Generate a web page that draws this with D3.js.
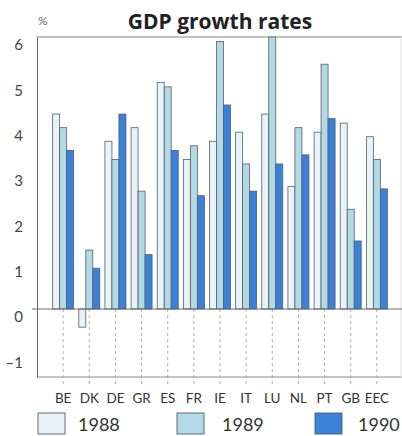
<!DOCTYPE html>
<html><head><meta charset="utf-8">
<script src="https://cdn.jsdelivr.net/npm/d3@7"></script>
<style>body{margin:0;background:#fff}svg{display:block}</style>
</head><body>
<script>
const countries = ["BE","DK","DE","GR","ES","FR","IE","IT","LU","NL","PT","GB","EEC"];
const years = ["1988","1989","1990"];
const g1988 = [4.3,-0.4,3.7,4.0,5.0,3.3,3.7,3.9,4.3,2.7,3.9,4.1,3.8];
const g1989 = [4.0,1.3,3.3,2.6,4.9,3.6,5.9,3.2,6.0,4.0,5.4,2.2,3.3];
const g1990 = [3.5,0.9,4.3,1.2,3.5,2.5,4.5,2.6,3.2,3.4,4.2,1.5,2.65];
const yTicks = [-1,0,1,2,3,4,5,6];
const seriesVals = {"1988":g1988,"1989":g1989,"1990":g1990};
const colors = {"1988":"#e9f3f5","1989":"#b3d9e6","1990":"#3b80d9"};

const W=402,H=436;
const svg=d3.select("body").append("svg").attr("width",W).attr("height",H);
const pLeft=37,pRight=401,pTop=37,pBottom=377;
const x=d3.scalePoint().domain(countries).range([pLeft,403]).padding(1);
const xi=d3.scaleBand().domain(years).range([-10.5,10.5]);
const y=d3.scaleLinear().domain([-1.5,6]).range([pBottom,pTop]);

// frame
svg.append("line").attr("x1",pLeft).attr("x2",W).attr("y1",pTop).attr("y2",pTop).attr("stroke","#7a8a80").attr("stroke-width",1.2);
svg.append("line").attr("x1",pLeft).attr("x2",W).attr("y1",pBottom).attr("y2",pBottom).attr("stroke","#8a8a8a").attr("stroke-width",1);
svg.append("line").attr("x1",pRight).attr("x2",pRight).attr("y1",pTop).attr("y2",pBottom).attr("stroke","#e0e0e0").attr("stroke-width",1);

// dashed category lines
svg.append("g").selectAll("line").data(countries).join("line")
  .attr("x1",d=>x(d)).attr("x2",d=>x(d)).attr("y1",y(0)).attr("y2",pBottom+7)
  .attr("stroke","#9a9a9a").attr("stroke-width",0.8).attr("stroke-dasharray","3,3");

// y axis
const yAxis=d3.axisLeft(y).tickValues(yTicks).tickSize(0).tickFormat(d=>d<0?"\u2013"+Math.abs(d):d);
const ga=svg.append("g").attr("transform",`translate(${pLeft},0)`).call(yAxis);
ga.select(".domain").attr("stroke","#666");
ga.selectAll(".tick text").attr("x",-14).attr("dy","0.85em").attr("font-family","Lato, 'Open Sans', sans-serif").attr("font-size",15).attr("fill","#444");

// bars
const groups=svg.append("g").selectAll("g").data(years).join("g");
groups.selectAll("rect").data(yr=>countries.map((c,i)=>({c,yr,v:seriesVals[yr][i]}))).join("rect")
  .attr("x",d=>x(d.c)+xi(d.yr)).attr("width",xi.bandwidth())
  .attr("y",d=>y(Math.max(0,d.v))).attr("height",d=>Math.abs(y(d.v)-y(0)))
  .attr("fill",d=>colors[d.yr]).attr("stroke","#50606a").attr("stroke-width",0.8);

// zero line
svg.append("line").attr("x1",pLeft-5).attr("x2",W).attr("y1",y(0)).attr("y2",y(0)).attr("stroke","#6a6a6a").attr("stroke-width",1);

// x labels
svg.append("g").selectAll("text").data(countries).join("text")
  .attr("x",d=>x(d)).attr("y",403).attr("text-anchor","middle")
  .attr("font-family","Lato, 'Open Sans', sans-serif").attr("font-size",13.5).attr("fill","#333").text(d=>d);

// title
svg.append("text").attr("x",220).attr("y",29).attr("text-anchor","middle")
  .attr("font-family","'Open Sans', sans-serif").attr("font-weight",700).attr("font-size",21).attr("fill","#222").text("GDP growth rates");
svg.append("text").attr("x",38).attr("y",25).attr("font-family","Lato, sans-serif").attr("font-size",12).attr("fill","#666").text("%");

// legend
const legX={"1988":38,"1989":177,"1990":315};
const legTx={"1988":78,"1989":222,"1990":358};
const lg=svg.append("g").selectAll("g").data(years).join("g");
lg.append("rect").attr("x",d=>legX[d]).attr("y",413).attr("width",27).attr("height",21)
  .attr("fill",d=>colors[d]).attr("stroke","#50606a").attr("stroke-width",0.9);
lg.append("text").attr("x",d=>legTx[d]).attr("y",431).attr("font-family","Lato, 'Open Sans', sans-serif")
  .attr("font-size",18).attr("fill","#333").text(d=>d);
</script>
</body></html>
